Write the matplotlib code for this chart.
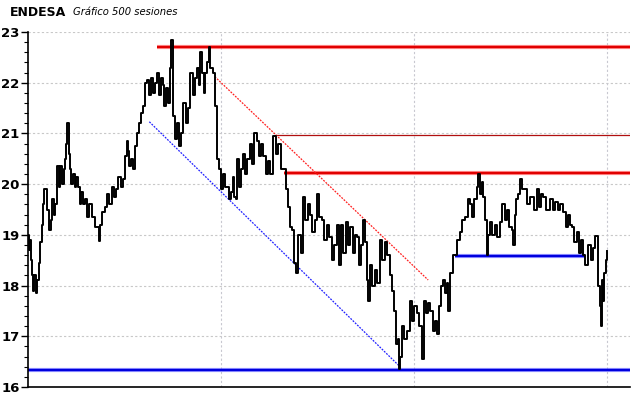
import numpy as np
import matplotlib
matplotlib.use("Agg")
import matplotlib.pyplot as plt
from matplotlib.ticker import MultipleLocator, NullFormatter

# ---- data (sessions 0..499) ----
seg_start = [0, 3, 9, 12, 15, 17, 21, 25, 28, 32, 36, 39, 43, 49, 55, 60, 62, 66, 72, 78,
             84, 86, 92, 99, 103, 111, 116, 122, 125, 128, 134, 140, 146, 150, 154, 159,
             163, 164, 172, 177, 180, 185, 191, 197, 203, 211, 216, 220, 224, 228, 233,
             237, 243, 249, 253, 260, 266, 272, 278, 284, 289, 292, 295, 303, 312, 316,
             319, 322, 329, 335, 340, 341, 347, 353, 358, 364, 368, 372, 377, 381, 385,
             390, 394, 398, 407, 413, 417, 420, 422, 428, 433, 439, 444, 450, 461, 466,
             469, 473, 478, 483, 489, 491, 493, 495, 497]
seg_prices = [
    [19.0, 18.7, 18.9, 18.5], [18.2, 17.9, 18.2, 17.85, 18.1], [18.45, 18.85],
    [19.2, 19.6, 19.9], [19.9, 19.5], [19.5, 19.1, 19.3], [19.7, 19.4, 19.6],
    [20.35, 19.95], [20.35, 20.0, 20.3], [20.5, 20.8, 21.2, 20.6], [20.3, 20.0],
    [20.2, 19.95, 20.15], [19.95, 19.6, 19.85, 19.6], [19.7, 19.35, 19.6],
    [19.35, 19.15], [19.15, 18.88], [19.2, 19.45], [19.55, 19.8, 19.6],
    [19.95, 19.75, 19.9], [20.15, 19.95, 20.1], [20.55, 20.85],
    [20.65, 20.35, 20.5, 20.3], [20.75, 21.0, 21.2, 21.4], [21.55, 22.0],
    [22.05, 21.75, 22.1, 21.8, 22.0], [22.2, 21.75, 22.1], [21.95, 21.55, 21.9, 21.6],
    [22.3, 22.85], [21.35, 20.9], [21.2, 20.75, 21.0], [21.6, 21.2, 21.5],
    [22.2, 21.75, 22.1], [22.3, 21.95, 22.6], [22.2, 21.8, 22.2], [22.4, 22.7, 22.3],
    [22.2, 21.55], [20.5], [20.3, 19.9, 20.2, 19.95], [19.95, 19.7, 19.85],
    [20.15, 19.75, 19.7], [20.5, 19.95, 20.3], [20.6, 20.2, 20.5], [20.8, 20.4, 21.0],
    [20.85, 20.55, 20.8], [20.55, 20.2, 20.45, 20.2], [20.95, 20.6], [20.8, 20.3],
    [20.3, 19.9], [19.55, 19.15], [19.1, 18.45, 18.25], [19.0, 18.65],
    [19.75, 19.3, 19.6], [19.4, 19.05, 19.3], [19.8, 19.35], [19.3, 18.9, 19.2],
    [18.95, 18.5, 18.8], [19.2, 18.4, 19.2], [18.65, 19.25, 18.8], [19.15, 18.65, 19.0],
    [18.95, 18.4, 18.8], [19.3, 18.85], [18.1, 17.7], [18.4, 18.0, 18.3, 18.05],
    [18.9, 18.5, 18.85, 18.6], [18.2, 17.9], [17.5, 16.85], [16.95, 16.35, 16.6],
    [17.2, 16.95, 17.1], [17.7, 17.3, 17.6], [17.45, 17.2], [16.55],
    [17.7, 17.45, 17.65], [17.5, 17.1, 17.3], [17.05, 17.6, 18.0],
    [18.1, 17.85, 18.05, 17.5], [18.25, 18.6], [18.6, 18.9], [19.05, 19.3],
    [19.35, 19.7], [19.6, 19.35], [19.7, 19.95, 20.2], [19.8, 20.05, 19.75],
    [19.3, 18.6, 19.0], [19.25, 19.0, 19.2, 18.95], [19.25, 19.6, 19.3],
    [19.5, 19.15], [19.1, 18.8], [19.4, 19.7], [19.8, 20.1, 19.9], [19.9, 19.6],
    [19.75, 19.5], [19.9, 19.55, 19.8], [19.75, 19.5],
    [19.7, 19.5, 19.65, 19.5, 19.6], [19.45, 19.15], [19.4, 19.2], [19.15, 18.85],
    [19.05, 18.65, 18.9], [18.6, 18.4], [18.8, 18.5, 18.75], [18.97, 18.97],
    [18.0], [17.6, 17.2], [18.1, 17.7], [18.25, 18.5, 18.68]]
last_session = 499

# support / resistance levels: (price, start session, end session)
red_levels = [(22.70, 111, 519), (20.21, 221, 519)]
thin_red_level = (20.97, 213, 519)
blue_levels = [(18.58, 368, 480), (16.33, 0, 519)]
red_trend = ([161, 345], [22.12, 18.11])
blue_trend = ([104.6, 320.7], [21.23, 16.40])
v_grid = [166, 333, 499]

# ---- expand segments ----
xs, ys = [], []
bounds = seg_start + [last_session + 1]
for i, vals in enumerate(seg_prices):
    a, b = bounds[i], bounds[i + 1]
    k = len(vals)
    for j, v in enumerate(vals):
        xs.append(a + (j + 0.5) * (b - a) / k if k > 1 else (a + b) / 2)
        ys.append(v)

fig = plt.figure(figsize=(6.4, 3.98), dpi=100)
ax = fig.add_axes([28 / 640, 11 / 398, 602 / 640, 355 / 398])

ax.set_xlim(0, 519)
ax.set_ylim(16, 23)

for yv in range(17, 24):
    ax.axhline(yv, color='#c8c8c8', lw=0.8, ls=(0, (2, 2)), zorder=0)
for xv in v_grid:
    ax.axvline(xv, color='#c8c8d0', lw=0.8, ls=(0, (2, 2)), zorder=0)

ax.plot(xs, ys, color='black', lw=1.4, zorder=3, drawstyle='steps-mid')

for p, a, b in red_levels:
    ax.plot([a, b], [p, p], color='#ff3030', lw=3.0, alpha=0.6, zorder=2, solid_capstyle='butt')
    ax.plot([a, b], [p, p], color='#e00000', lw=1.5, zorder=2, solid_capstyle='butt')
p, a, b = thin_red_level
ax.plot([a, b], [p, p], color='#b01010', lw=0.9, zorder=2)
for p, a, b in blue_levels:
    ax.plot([a, b], [p, p], color='#4040ff', lw=3.0, alpha=0.6, zorder=2, solid_capstyle='butt')
    ax.plot([a, b], [p, p], color='#0000dd', lw=1.5, zorder=2, solid_capstyle='butt')

ax.plot(red_trend[0], red_trend[1], color='#ff2020', lw=0.9, ls=(0, (1.5, 1)), zorder=2)
ax.plot(blue_trend[0], blue_trend[1], color='#2020ff', lw=0.9, ls=(0, (1.5, 1)), zorder=2)

for s in ['top', 'right']:
    ax.spines[s].set_visible(False)
ax.spines['left'].set_linewidth(1.2)
ax.spines['bottom'].set_linewidth(1.2)
ax.set_xticks([])
ax.yaxis.set_major_locator(MultipleLocator(1))
ax.yaxis.set_minor_locator(MultipleLocator(0.2))
ax.yaxis.set_minor_formatter(NullFormatter())
ax.tick_params(axis='y', which='major', length=5, width=1, pad=1, labelsize=9.5)
ax.tick_params(axis='y', which='minor', length=3, width=0.8)
for lab in ax.get_yticklabels():
    lab.set_fontweight('bold')

fig.text(10 / 640, 1 - 12 / 398, 'ENDESA', fontsize=9, fontweight='bold', va='center', ha='left')
fig.text(73 / 640, 1 - 12 / 398, 'Gráfico 500 sesiones', fontsize=7.2, style='italic', va='center', ha='left')

fig.savefig('out.png', dpi=100)
